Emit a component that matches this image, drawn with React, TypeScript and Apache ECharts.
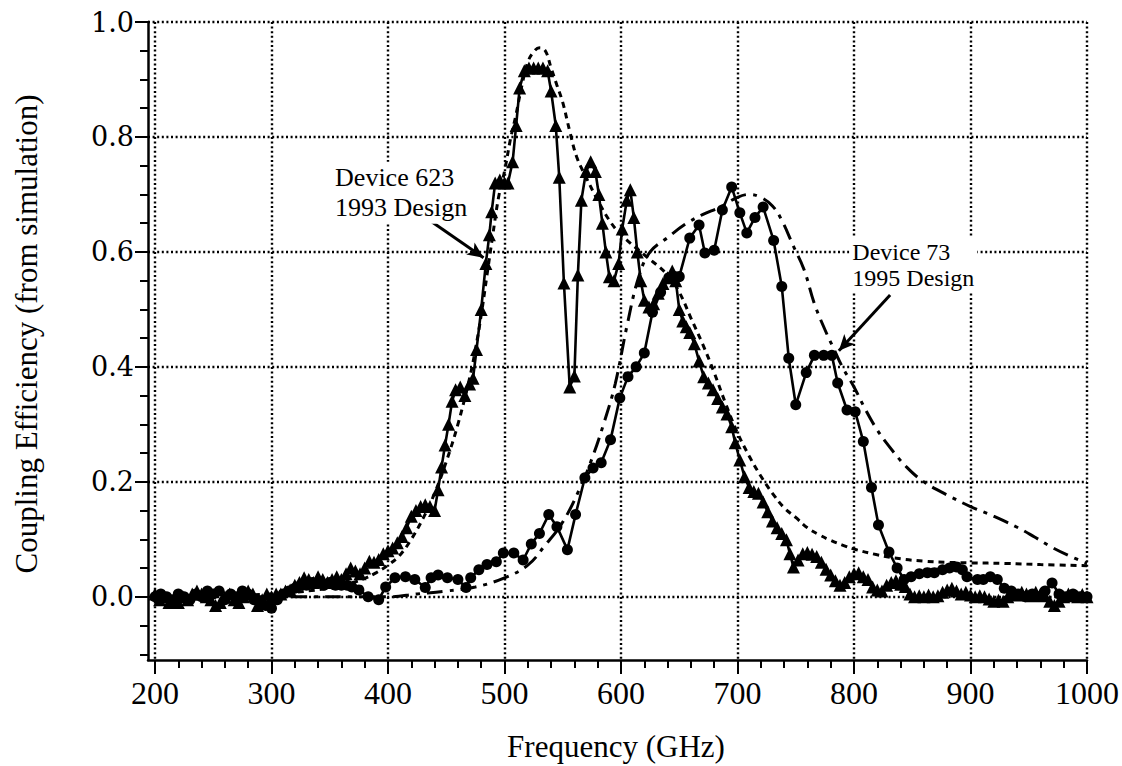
import React, { useEffect, useRef } from "react";
import * as echarts from "echarts";

// ---------- data ----------
const xMajorTicks = [200, 300, 400, 500, 600, 700, 800, 900, 1000];
const xMinorTicks = [
  220, 240, 260, 280, 320, 340, 360, 380, 420, 440, 460, 480, 520, 540, 560, 580,
  620, 640, 660, 680, 720, 740, 760, 780, 820, 840, 860, 880, 920, 940, 960, 980,
];
const yMajorTicks = [0, 0.2, 0.4, 0.6, 0.8, 1.0];
const yMinorTicks = [
  -0.1, -0.05, 0.05, 0.1, 0.15, 0.25, 0.3, 0.35, 0.45, 0.5, 0.55, 0.65, 0.7, 0.75, 0.85, 0.9, 0.95,
];

const xTitle = "Frequency (GHz)";
const yTitle = "Coupling Efficiency (from simulation)";

// Device 623 (1993 design) measured – triangles
const device623Measured: [number, number][] = [
  [200, 0.005], [204, -0.005], [208, 0.0], [212, -0.01], [216, -0.01], [220, -0.01], [224, 0.0],
  [228, -0.005], [232, 0.005], [236, 0.01], [240, 0.005], [244, 0.0], [248, -0.005], [252, -0.015],
  [256, -0.01], [260, 0.0], [264, 0.005], [268, -0.005], [272, -0.01], [276, 0.0], [280, 0.01],
  [284, 0.005], [288, -0.015], [292, -0.005], [296, 0.005], [300, 0.0], [304, 0.005], [308, 0.005],
  [312, 0.01], [316, 0.012], [320, 0.02], [324, 0.025], [328, 0.033], [332, 0.03], [336, 0.025],
  [340, 0.035], [344, 0.03], [348, 0.025], [352, 0.03], [356, 0.035], [360, 0.03], [364, 0.04],
  [368, 0.05], [372, 0.045], [376, 0.04], [380, 0.05], [384, 0.062], [388, 0.06], [392, 0.065],
  [396, 0.075], [400, 0.08], [404, 0.085], [408, 0.094], [412, 0.105], [416, 0.12], [420, 0.14],
  [424, 0.15], [428, 0.157], [432, 0.16], [436, 0.157], [440, 0.15], [443, 0.186], [446, 0.226],
  [449, 0.264], [452, 0.3], [455, 0.34], [458, 0.36], [462, 0.365], [466, 0.35], [470, 0.37],
  [473, 0.38], [476, 0.43], [480, 0.5], [484, 0.58], [487, 0.63], [489, 0.67], [492, 0.72],
  [496, 0.725], [500, 0.72], [503, 0.72], [507, 0.757], [510, 0.82], [513, 0.885], [517, 0.915],
  [521, 0.92], [525, 0.92], [529, 0.92], [533, 0.92], [537, 0.915], [540, 0.88], [544, 0.82],
  [547, 0.73], [551, 0.546], [556, 0.365], [560, 0.384], [563, 0.56], [566, 0.69], [570, 0.74],
  [574, 0.757], [578, 0.74], [581, 0.7], [584, 0.65], [587, 0.6], [590, 0.557], [594, 0.55],
  [598, 0.58], [601, 0.64], [605, 0.69], [608, 0.708], [611, 0.66], [614, 0.6], [617, 0.55],
  [620, 0.516], [624, 0.504], [628, 0.51], [632, 0.528], [636, 0.545], [640, 0.555], [644, 0.567],
  [647, 0.55], [650, 0.5], [653, 0.48], [656, 0.47], [659, 0.46], [663, 0.44], [667, 0.41],
  [671, 0.383], [675, 0.372], [679, 0.36], [683, 0.345], [687, 0.33], [691, 0.318], [695, 0.296],
  [698, 0.268], [702, 0.238], [706, 0.209], [710, 0.19], [714, 0.183], [718, 0.18], [722, 0.165],
  [726, 0.148], [730, 0.132], [734, 0.12], [738, 0.11], [742, 0.099], [745, 0.075], [748, 0.052],
  [752, 0.064], [756, 0.075], [760, 0.077], [764, 0.074], [768, 0.07], [772, 0.06], [776, 0.048],
  [780, 0.038], [784, 0.028], [788, 0.02], [792, 0.025], [796, 0.035], [800, 0.04], [804, 0.042],
  [808, 0.035], [812, 0.03], [816, 0.017], [820, 0.012], [824, 0.01], [828, 0.02], [832, 0.025],
  [836, 0.028], [840, 0.022], [844, 0.018], [848, 0.005], [852, 0.0], [856, 0.002], [860, 0.0],
  [864, 0.003], [868, 0.0], [872, 0.002], [876, 0.008], [880, 0.012], [884, 0.015], [888, 0.01],
  [892, 0.005], [896, 0.008], [900, 0.003], [904, 0.0], [908, 0.002], [912, 0.0], [916, -0.004],
  [920, -0.008], [924, -0.006], [928, -0.008], [932, 0.0], [936, 0.005], [940, 0.003], [944, 0.008],
  [948, 0.005], [952, 0.002], [956, 0.008], [960, 0.005], [964, 0.002], [968, -0.008], [972, -0.015],
  [976, -0.008], [980, 0.0], [984, 0.005], [988, 0.002], [992, 0.0], [996, 0.004], [1000, 0.0],
];

// Device 73 (1995 design) measured – circles
const device73Measured: [number, number][] = [
  [200, 0.0], [205, 0.005], [210, 0.0], [215, -0.005], [220, 0.005], [225, 0.0], [230, -0.005],
  [235, 0.005], [240, 0.0], [245, 0.01], [250, 0.005], [255, 0.01], [260, -0.005], [265, 0.005],
  [270, 0.0], [275, 0.01], [280, 0.005], [285, -0.005], [290, -0.01], [295, -0.015], [300, -0.02],
  [305, -0.005], [310, 0.005], [315, 0.01], [320, 0.015], [325, 0.02], [330, 0.02], [335, 0.025],
  [340, 0.025], [345, 0.02], [350, 0.025], [355, 0.02], [360, 0.02], [365, 0.02], [369, 0.017],
  [375, 0.012], [383, 0.0], [392, -0.005], [398, 0.017], [406, 0.033], [415, 0.035], [423, 0.03],
  [432, 0.016], [437, 0.033], [443, 0.038], [451, 0.033], [460, 0.03], [467, 0.016], [471, 0.033],
  [478, 0.047], [485, 0.056], [493, 0.061], [499, 0.076], [508, 0.076], [516, 0.064], [523, 0.092],
  [530, 0.11], [538, 0.143], [545, 0.122], [554, 0.082], [561, 0.143], [569, 0.207], [576, 0.224],
  [583, 0.233], [591, 0.273], [599, 0.346], [606, 0.383], [613, 0.4], [620, 0.424], [627, 0.495],
  [634, 0.53], [641, 0.555], [646, 0.557], [650, 0.557], [659, 0.624], [667, 0.647], [672, 0.598],
  [680, 0.603], [687, 0.673], [695, 0.713], [702, 0.668], [708, 0.633], [715, 0.66], [722, 0.678],
  [731, 0.62], [738, 0.54], [744, 0.415], [750, 0.334], [759, 0.39], [766, 0.42], [774, 0.42],
  [781, 0.42], [786, 0.372], [794, 0.325], [801, 0.322], [808, 0.27], [815, 0.19], [821, 0.125],
  [830, 0.078], [837, 0.05], [843, 0.03], [849, 0.035], [856, 0.04], [863, 0.042], [869, 0.042],
  [876, 0.047], [882, 0.05], [888, 0.052], [893, 0.047], [897, 0.035], [906, 0.03], [911, 0.03],
  [917, 0.035], [923, 0.03], [929, 0.015], [935, 0.01], [941, 0.005], [947, 0.0], [953, 0.005],
  [958, 0.0], [964, 0.01], [970, 0.024], [976, 0.005], [982, 0.0], [988, 0.005], [994, 0.0],
  [1000, 0.0],
];

// Device 623 simulation – short dashes
const device623Simulated: [number, number][] = [
  [200, 0.0], [250, 0.002], [300, 0.005], [350, 0.015], [370, 0.025], [380, 0.032], [390, 0.042],
  [400, 0.055], [410, 0.072], [420, 0.1], [430, 0.136], [440, 0.18], [450, 0.235], [460, 0.3],
  [470, 0.38], [475, 0.43], [480, 0.49], [485, 0.56], [490, 0.63], [495, 0.696], [500, 0.74],
  [505, 0.795], [510, 0.84], [515, 0.89], [520, 0.93], [525, 0.948], [530, 0.955], [535, 0.95],
  [540, 0.92], [545, 0.89], [550, 0.86], [556, 0.81], [562, 0.765], [570, 0.73], [580, 0.69],
  [590, 0.655], [600, 0.63], [620, 0.595], [640, 0.56], [650, 0.53], [660, 0.485], [670, 0.44],
  [680, 0.39], [690, 0.335], [700, 0.285], [710, 0.245], [720, 0.21], [730, 0.18], [740, 0.155],
  [750, 0.138], [760, 0.12], [770, 0.108], [780, 0.098], [790, 0.09], [800, 0.083], [820, 0.073],
  [840, 0.066], [860, 0.062], [880, 0.06], [900, 0.059], [930, 0.058], [960, 0.056], [1000, 0.054],
];

// Device 73 simulation – dash-dot
const device73Simulated: [number, number][] = [
  [200, 0.0], [300, 0.0], [400, 0.0], [425, 0.005], [450, 0.01], [475, 0.017], [500, 0.033],
  [520, 0.055], [535, 0.09], [550, 0.13], [565, 0.19], [575, 0.24], [585, 0.3], [595, 0.37],
  [605, 0.47], [615, 0.555], [625, 0.6], [640, 0.625], [655, 0.648], [670, 0.665], [685, 0.678],
  [700, 0.695], [710, 0.7], [720, 0.695], [730, 0.68], [738, 0.655], [748, 0.61], [757, 0.57],
  [766, 0.51], [775, 0.465], [783, 0.43], [790, 0.4], [800, 0.365], [810, 0.325], [820, 0.29],
  [830, 0.262], [845, 0.226], [860, 0.2], [880, 0.177], [900, 0.157], [920, 0.14], [940, 0.121],
  [955, 0.104], [970, 0.086], [985, 0.071], [1000, 0.058],
];

// annotations (text lines and anchors in data coordinates)
const note623Text = "Device 623\n1993 Design";
const note73Text = "Device 73\n1995 Design";
const note623Anchor: [number, number] = [352, 0.757];
const note73Anchor: [number, number] = [796, 0.624];
const arrow623: [number, number][] = [[437.8, 0.652], [482, 0.59]];
const arrow73: [number, number][] = [[831, 0.525], [787, 0.428]];

const X_MIN = 194;
const X_MAX = 1000;
const Y_MIN = -0.11;
const Y_MAX = 1.0;

const SERIF = "'Liberation Serif', 'Times New Roman', serif";

export default function App() {
  const ref = useRef<HTMLDivElement>(null);

  useEffect(() => {
    if (!ref.current) return;
    const chart = echarts.init(ref.current, null, { renderer: "svg" });

    const gridLine = { show: true, lineStyle: { color: "#000", width: 2.4, type: [2, 2.6] as any } };
    const arrowMark = (pts: [number, number][]) => ({
      silent: true,
      symbol: ["none", "arrow"],
      symbolSize: [11, 16],
      label: { show: false },
      lineStyle: { color: "#000", width: 3, type: "solid" },
      emphasis: { disabled: true },
      data: [[{ coord: pts[0] }, { coord: pts[1] }]],
    });

    const option: any = {
      animation: false,
      backgroundColor: "#fff",
      grid: { left: 148, right: 32, top: 22, bottom: 106, containLabel: false },
      xAxis: [
        {
          type: "value",
          min: X_MIN,
          max: X_MAX,
          position: "bottom",
          axisLine: { show: true, onZero: false, lineStyle: { color: "#000", width: 2.5 } },
          axisTick: { show: true, customValues: xMajorTicks, length: 14, lineStyle: { color: "#000", width: 2 } },
          axisLabel: {
            customValues: xMajorTicks,
            margin: 17,
            color: "#000",
            fontFamily: SERIF,
            fontSize: 32,
            formatter: (v: number) => String(v),
          },
          splitLine: gridLine,
        },
        {
          type: "value",
          min: X_MIN,
          max: X_MAX,
          position: "bottom",
          axisLine: { show: false, onZero: false },
          axisTick: { show: true, customValues: xMinorTicks, length: 8, lineStyle: { color: "#000", width: 2 } },
          axisLabel: { show: false },
          splitLine: { show: false },
        },
      ],
      yAxis: [
        {
          type: "value",
          min: Y_MIN,
          max: Y_MAX,
          position: "left",
          axisLine: { show: true, onZero: false, lineStyle: { color: "#000", width: 2.5 } },
          axisTick: { show: true, customValues: yMajorTicks, length: 13, lineStyle: { color: "#000", width: 2 } },
          axisLabel: {
            customValues: yMajorTicks,
            margin: 14,
            color: "#000",
            fontFamily: "'DejaVu Serif', serif",
            fontSize: 27,
            formatter: (v: number) => v.toFixed(1),
          },
          splitLine: gridLine,
        },
        {
          type: "value",
          min: Y_MIN,
          max: Y_MAX,
          position: "left",
          axisLine: { show: false, onZero: false },
          axisTick: { show: true, customValues: yMinorTicks, length: 8, lineStyle: { color: "#000", width: 2 } },
          axisLabel: { show: false },
          splitLine: { show: false },
        },
      ],
      series: [
        {
          name: "Device 623 simulation",
          type: "line",
          data: device623Simulated,
          smooth: 0.4,
          showSymbol: false,
          lineStyle: { color: "#000", width: 3, type: [6, 5] },
          z: 2,
        },
        {
          name: "Device 73 simulation",
          type: "line",
          data: device73Simulated,
          smooth: 0.4,
          showSymbol: false,
          lineStyle: { color: "#000", width: 3, type: [16, 7, 4, 7] },
          z: 2,
        },
        {
          name: "Device 73 measured",
          type: "line",
          data: device73Measured,
          symbol: "circle",
          symbolSize: 11,
          itemStyle: { color: "#000" },
          lineStyle: { color: "#000", width: 2.6 },
          z: 3,
          markLine: arrowMark(arrow73),
        },
        {
          name: "Device 623 measured",
          type: "line",
          data: device623Measured,
          symbol: "triangle",
          symbolSize: 13,
          itemStyle: { color: "#000" },
          lineStyle: { color: "#000", width: 2.6 },
          z: 4,
          markLine: arrowMark(arrow623),
        },
      ],
    };

    chart.setOption(option);

    const toPx = (p: [number, number]) => chart.convertToPixel({ gridIndex: 0 }, p) as number[];
    const texts: any[] = [];
    const addNote = (text: string, anchor: [number, number], lineHeight: number, size: number) => {
      const [px, py] = toPx(anchor);
      texts.push({
        type: "text",
        x: px,
        y: py,
        style: {
          text,
          fill: "#000",
          fontFamily: SERIF,
          fontSize: size,
          lineHeight,
          align: "left",
          verticalAlign: "top",
          backgroundColor: "#fff",
          padding: [1, 3, 1, 3],
        },
        z: 10,
      });
    };
    addNote(note623Text, note623Anchor, 30, 26);
    addNote(note73Text, note73Anchor, 26, 24);

    texts.push({
      type: "text",
      x: 616,
      y: 746,
      style: { text: xTitle, fill: "#000", fontFamily: SERIF, fontSize: 31, align: "center", verticalAlign: "middle" },
    });
    texts.push({
      type: "text",
      x: 26,
      y: 334,
      rotation: Math.PI / 2,
      style: { text: yTitle, fill: "#000", fontFamily: SERIF, fontSize: 31, align: "center", verticalAlign: "middle" },
    });

    chart.setOption({ graphic: texts });

    return () => chart.dispose();
  }, []);

  return (
    <div
      ref={ref}
      style={{ position: "fixed", left: 0, top: 0, width: 1122, height: 766, background: "#fff" }}
    />
  );
}
